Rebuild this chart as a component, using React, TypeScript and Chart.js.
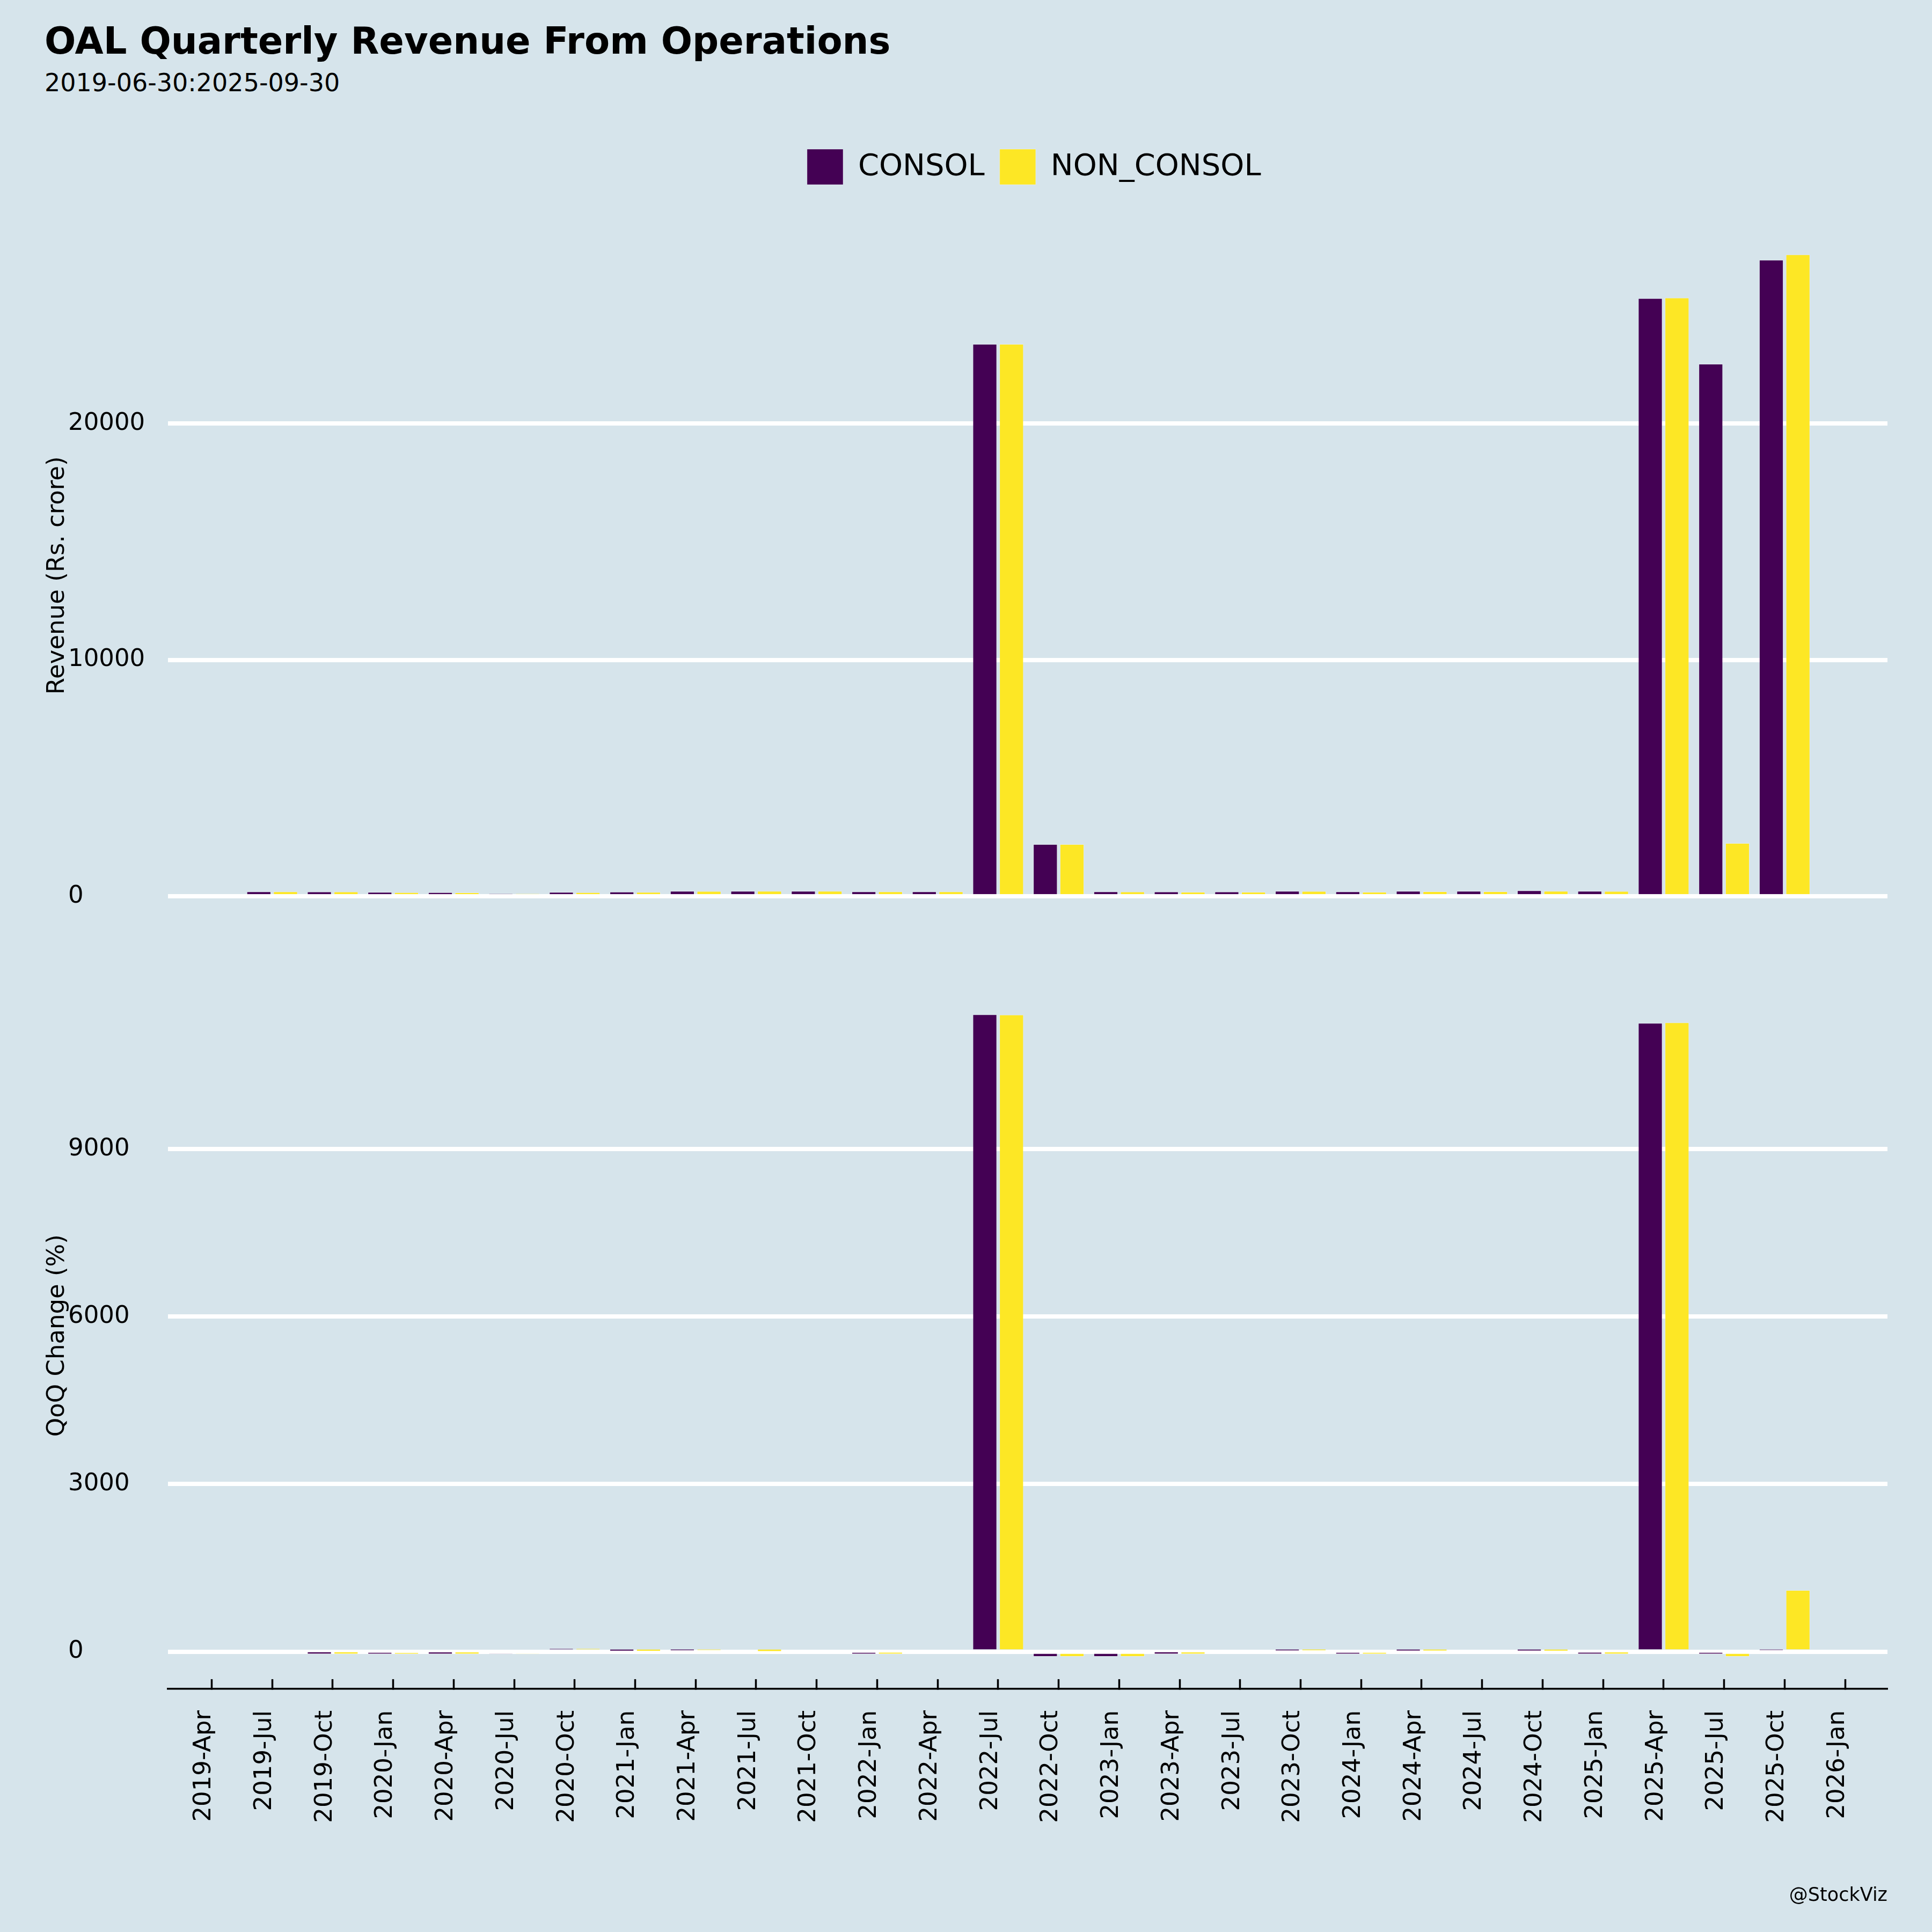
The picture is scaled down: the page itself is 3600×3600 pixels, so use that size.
import { useEffect, useRef } from 'react';
import { Chart, registerables } from 'chart.js';

Chart.register(...registerables);

const FONT = 'DejaVu Sans';
const BG = 'rgb(214, 228, 235)';
const CONSOL_COLOR = '#440154';
const NON_CONSOL_COLOR = '#fde725';

const chartTitle = 'OAL Quarterly Revenue From Operations';
const chartSubtitle = '2019-06-30:2025-09-30';
const watermark = '@StockViz';
const seriesNames = ['CONSOL', 'NON_CONSOL'];

const tickLabels = [
  '2019-Apr', '2019-Jul', '2019-Oct', '2020-Jan', '2020-Apr', '2020-Jul', '2020-Oct',
  '2021-Jan', '2021-Apr', '2021-Jul', '2021-Oct', '2022-Jan', '2022-Apr', '2022-Jul',
  '2022-Oct', '2023-Jan', '2023-Apr', '2023-Jul', '2023-Oct', '2024-Jan', '2024-Apr',
  '2024-Jul', '2024-Oct', '2025-Jan', '2025-Apr', '2025-Jul', '2025-Oct', '2026-Jan',
];

const revenueTicks = [0, 10000, 20000];
const qoqTicks = [0, 3000, 6000, 9000];

const quarters = [
  '2019-06-30', '2019-09-30', '2019-12-31', '2020-03-31', '2020-06-30', '2020-09-30',
  '2020-12-31', '2021-03-31', '2021-06-30', '2021-09-30', '2021-12-31', '2022-03-31',
  '2022-06-30', '2022-09-30', '2022-12-31', '2023-03-31', '2023-06-30', '2023-09-30',
  '2023-12-31', '2024-03-31', '2024-06-30', '2024-09-30', '2024-12-31', '2025-03-31',
  '2025-06-30', '2025-09-30',
];

const consolRevenue = [
  204, 200, 181, 170, 113, 180, 196, 227, 227, 227, 204, 204,
  23356, 2209, 204, 200, 200, 227, 204, 227, 227, 250, 227, 25291,
  22516, 26912,
];
const nonConsolRevenue = [
  204, 200, 174, 166, 113, 174, 182, 220, 227, 227, 204, 204,
  23356, 2209, 197, 190, 190, 220, 190, 212, 212, 227, 220, 25314,
  2254, 27139,
];

const consolQoQ = [
  null, -2, -10, -5, -33, 59, 9, 16, 0, 0, -10, 0,
  11409, -90.5, -90.8, -2, 0, 13, -10, 11, 0, 10, -9, 11255,
  -11, 19.5,
];
const nonConsolQoQ = [
  null, -1, -14, -5, -32, 58, 5, 21, 1, 0, -8, 0,
  11405, -90.5, -90.7, -4, 0, 16, -12, 11, 0, 7, -3, 11265,
  -91, 1102,
];

// position of a quarter-end date on the quarterly tick index (tick 0 = 2019-Apr)
const quarterPos = (d: string) => {
  const y = parseInt(d.slice(0, 4), 10);
  const m = parseInt(d.slice(5, 7), 10);
  return (y - 2019) * 4 + (m + 1 - 4) / 3;
};

const toPoints = (vals: (number | null)[]) =>
  vals.map((v, i) => ({ x: quarterPos(quarters[i]), y: v }));

const X_MIN = -0.727;
const X_MAX = 27.7;

const barStyle = (color: string) => ({
  backgroundColor: color,
  borderColor: 'rgba(255,255,255,0.3)',
  borderWidth: 1,
  categoryPercentage: 0.882,
  barPercentage: 0.91,
});

const setTicks = (values: number[]) => (s: any) => {
  s.ticks = values.map((v) => ({ value: v }));
};

const yAxis = (title: string, min: number, max: number, values: number[]) => ({
  min,
  max,
  afterBuildTicks: setTicks(values),
  ticks: {
    crossAlign: 'far' as const,
    padding: 0,
    color: '#000',
    font: { family: FONT, size: 45 },
    callback: (v: any) => String(v),
  },
  grid: { color: '#ffffff', lineWidth: 8, drawTicks: false },
  border: { display: false },
  title: {
    display: true,
    text: title,
    color: '#000',
    font: { family: FONT, size: 45 },
    padding: { top: -47, bottom: 0 },
  },
  afterFit: (s: any) => {
    s.width = 185.5;
  },
});

const xTickIndexes = tickLabels.map((_, i) => i);

// nudges the legend a little to the right, as in the reference
const legendShift = {
  id: 'legendShift',
  afterLayout(chart: any) {
    if (chart.legend) {
      chart.legend.left += 12;
      chart.legend.right += 12;
    }
  },
};

export default function App() {
  const topRef = useRef<HTMLCanvasElement>(null);
  const botRef = useRef<HTMLCanvasElement>(null);

  useEffect(() => {
    Chart.defaults.font.family = FONT;
    const top = new Chart(topRef.current!, {
      type: 'bar',
      data: {
        datasets: [
          { label: seriesNames[0], data: toPoints(consolRevenue), ...barStyle(CONSOL_COLOR) },
          { label: seriesNames[1], data: toPoints(nonConsolRevenue), ...barStyle(NON_CONSOL_COLOR) },
        ],
      },
      plugins: [legendShift],
      options: {
        responsive: false,
        animation: false,
        devicePixelRatio: 1,
        layout: { padding: { top: 250, left: 127, right: 83, bottom: 29.9 } },
        plugins: {
          legend: {
            display: true,
            position: 'top',
            fullSize: false,
            align: 'center',
            labels: {
              boxWidth: 67,
              boxHeight: 66,
              padding: 28,
              color: '#000',
              font: { family: FONT, size: 56 },
            },
          },
          tooltip: { enabled: false },
        },
        scales: {
          x: {
            type: 'linear',
            position: 'top',
            offset: false,
            min: X_MIN,
            max: X_MAX,
            afterBuildTicks: setTicks(xTickIndexes),
            ticks: { display: false },
            grid: { display: false, offset: false },
            border: { display: false },
            afterFit: (s: any) => {
              s.height = 60.5;
            },
          },
          y: yAxis('Revenue (Rs. crore)', -1357, 28496, revenueTicks),
        },
      } as any,
    });

    const bot = new Chart(botRef.current!, {
      type: 'bar',
      data: {
        datasets: [
          { label: seriesNames[0], data: toPoints(consolQoQ), ...barStyle(CONSOL_COLOR) },
          { label: seriesNames[1], data: toPoints(nonConsolQoQ), ...barStyle(NON_CONSOL_COLOR) },
        ],
      },
      options: {
        responsive: false,
        animation: false,
        devicePixelRatio: 1,
        layout: { padding: { top: 70.4, left: 127, right: 83, bottom: 0 } },
        plugins: {
          legend: { display: false },
          tooltip: { enabled: false },
        },
        scales: {
          x: {
            type: 'linear',
            position: 'bottom',
            offset: false,
            min: X_MIN,
            max: X_MAX,
            afterBuildTicks: setTicks(xTickIndexes),
            ticks: {
              autoSkip: false,
              minRotation: 90,
              maxRotation: 90,
              padding: 58,
              labelOffset: -14,
              color: '#000',
              font: { family: FONT, size: 45 },
              callback: (v: any) => {
                const i = Math.round(Number(v));
                return tickLabels[i] ?? '';
              },
            },
            grid: {
              display: true,
              offset: false,
              drawOnChartArea: false,
              drawTicks: true,
              tickLength: -18,
              tickColor: '#000',
              tickWidth: 3.5,
              color: '#000',
            },
            border: { display: true, color: '#000', width: 3.5 },
            afterFit: (s: any) => {
              s.height = 453.1;
            },
          },
          y: yAxis('QoQ Change (%)', -666, 11984, qoqTicks),
        },
      } as any,
    });

    return () => {
      top.destroy();
      bot.destroy();
    };
  }, []);

  return (
    <div
      style={{
        position: 'absolute',
        left: 0,
        top: 0,
        width: 3600,
        height: 3600,
        background: BG,
        fontFamily: FONT,
        overflow: 'hidden',
      }}
    >
      <div
        style={{
          position: 'absolute',
          left: 83,
          top: 36,
          fontSize: 68.7,
          fontWeight: 'bold',
          lineHeight: 'normal',
          color: '#000',
          whiteSpace: 'nowrap',
        }}
      >
        {chartTitle}
      </div>
      <div
        style={{
          position: 'absolute',
          left: 83,
          top: 127,
          fontSize: 46,
          lineHeight: 'normal',
          color: '#000',
          whiteSpace: 'nowrap',
        }}
      >
        {chartSubtitle}
      </div>
      <canvas
        ref={topRef}
        width={3600}
        height={1760}
        style={{ position: 'absolute', left: 0, top: 0, width: 3600, height: 1760 }}
      />
      <canvas
        ref={botRef}
        width={3600}
        height={1840}
        style={{ position: 'absolute', left: 0, top: 1760, width: 3600, height: 1840 }}
      />
      <div
        style={{
          position: 'absolute',
          right: 3600 - 3517,
          top: 3510,
          fontSize: 35,
          lineHeight: 'normal',
          color: '#000',
          whiteSpace: 'nowrap',
        }}
      >
        {watermark}
      </div>
    </div>
  );
}
